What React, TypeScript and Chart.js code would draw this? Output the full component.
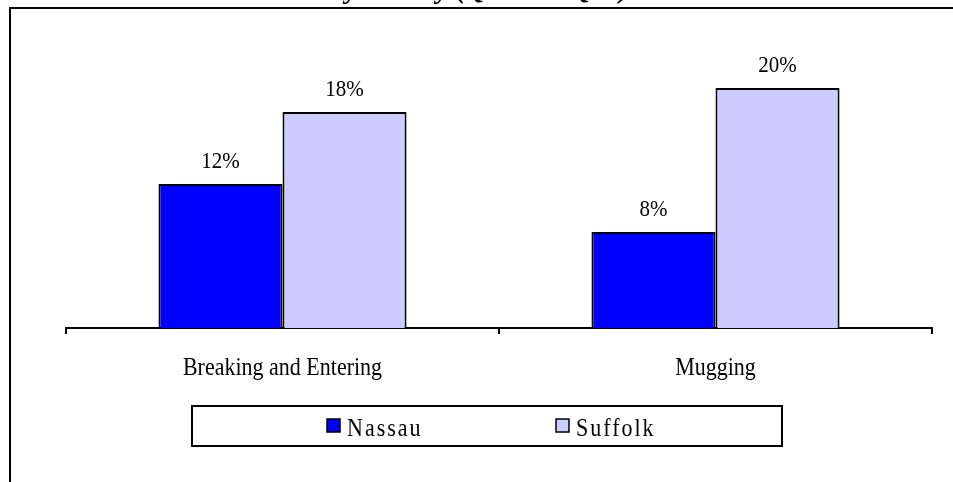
import React, { useEffect, useRef } from "react";
import { Chart, registerables } from "chart.js";

Chart.register(...registerables);

const categories = ["Breaking and Entering", "Mugging"];
const seriesNames = ["Nassau", "Suffolk"];
const nassauValues = [12, 8];
const suffolkValues = [18, 20];
const seriesColors = ["#0000FF", "#CCCCFF"];
const titleLine = "by County (Q13 and Q14)";

const SERIF = '"Liberation Serif", "Times New Roman", Times, serif';
const STRETCH = 1.12;

function stretchedText(ctx: any, text: string, x: number, baseline: number) {
  ctx.save();
  ctx.translate(x, baseline);
  ctx.scale(1, STRETCH);
  ctx.fillText(text, 0, 0);
  ctx.restore();
}

const framePlugin = {
  id: "frame",
  beforeDraw(chart: any) {
    const ctx = chart.ctx;
    ctx.save();
    ctx.fillStyle = "#fff";
    ctx.fillRect(0, 0, chart.width, chart.height);
    ctx.strokeStyle = "#000";
    ctx.lineWidth = 2;
    ctx.beginPath();
    ctx.moveTo(10, chart.height + 10);
    ctx.lineTo(10, 8);
    ctx.lineTo(chart.width + 10, 8);
    ctx.stroke();
    // title (only its lower part falls inside the picture)
    ctx.fillStyle = "#000";
    ctx.font = `italic bold 28px ${SERIF}`;
    ctx.textAlign = "center";
    ctx.textBaseline = "alphabetic";
    ctx.fillText(titleLine, 480, -2);
    ctx.restore();
  },
};

const valueLabelPlugin = {
  id: "valueLabels",
  afterDatasetsDraw(chart: any) {
    const ctx = chart.ctx;
    ctx.save();
    ctx.fillStyle = "#000";
    ctx.font = `21px ${SERIF}`;
    ctx.textAlign = "center";
    ctx.textBaseline = "alphabetic";
    chart.data.datasets.forEach((ds: any, i: number) => {
      const meta = chart.getDatasetMeta(i);
      meta.data.forEach((el: any, j: number) => {
        stretchedText(ctx, `${ds.data[j]}%`, el.x, el.y - 16);
      });
    });
    // category labels
    const xs = chart.scales.x;
    ctx.font = `22px ${SERIF}`;
    (chart.data.labels as string[]).forEach((lab: string, i: number) => {
      stretchedText(ctx, lab, xs.getPixelForTick(i), xs.top + 47);
    });
    ctx.restore();
  },
};

const boxLegendPlugin = {
  id: "boxLegend",
  afterDraw(chart: any) {
    const ctx = chart.ctx;
    const left = 192;
    const top = 406;
    const w = 590;
    const h = 40;
    ctx.save();
    ctx.strokeStyle = "#000";
    ctx.lineWidth = 2;
    ctx.strokeRect(left, top, w, h);
    const offsets = [135, 364];
    ctx.font = `22px ${SERIF}`;
    (ctx as any).letterSpacing = "2px";
    ctx.textAlign = "left";
    ctx.textBaseline = "alphabetic";
    chart.data.datasets.forEach((ds: any, i: number) => {
      const x = left + offsets[i];
      ctx.fillStyle = ds.backgroundColor;
      ctx.fillRect(x, top + 13, 13, 13);
      ctx.lineWidth = 1.5;
      ctx.strokeStyle = "#000";
      ctx.strokeRect(x, top + 13, 13, 13);
      ctx.fillStyle = "#000";
      stretchedText(ctx, ds.label, x + 20, top + 30);
    });
    ctx.restore();
  },
};

export default function App() {
  const ref = useRef<HTMLCanvasElement | null>(null);
  useEffect(() => {
    if (!ref.current) return;
    const chart = new Chart(ref.current, {
      type: "bar",
      data: {
        labels: categories,
        datasets: [
          {
            label: seriesNames[0],
            data: nassauValues,
            backgroundColor: seriesColors[0],
            borderColor: "#000",
            borderWidth: 2,
            categoryPercentage: 0.573,
            barPercentage: 1,
          },
          {
            label: seriesNames[1],
            data: suffolkValues,
            backgroundColor: seriesColors[1],
            borderColor: "#000",
            borderWidth: 2,
            categoryPercentage: 0.573,
            barPercentage: 1,
          },
        ],
      },
      options: {
        responsive: false,
        animation: false,
        events: [],
        layout: { padding: { left: 66, right: 21, top: 28, bottom: 0 } },
        plugins: {
          legend: { display: false },
          title: { display: false },
          tooltip: { enabled: false },
        },
        scales: {
          x: {
            type: "category",
            offset: true,
            grid: {
              offset: true,
              drawOnChartArea: false,
              drawTicks: true,
              tickLength: 6,
              color: "#000",
              lineWidth: 2,
            },
            border: { display: true, color: "#000", width: 2 },
            ticks: {
              display: false,
              autoSkip: false,
            },
            afterFit: (s: any) => {
              s.height = 154;
            },
          },
          y: {
            display: false,
            min: 0,
            max: 25,
          },
        },
      },
      plugins: [framePlugin, valueLabelPlugin, boxLegendPlugin],
    });
    return () => chart.destroy();
  }, []);
  return (
    <div
      style={{
        position: "fixed",
        left: 0,
        top: 0,
        width: 953,
        height: 482,
        background: "#fff",
        overflow: "hidden",
      }}
    >
      <canvas ref={ref} width={953} height={482} style={{ display: "block" }} />
    </div>
  );
}
